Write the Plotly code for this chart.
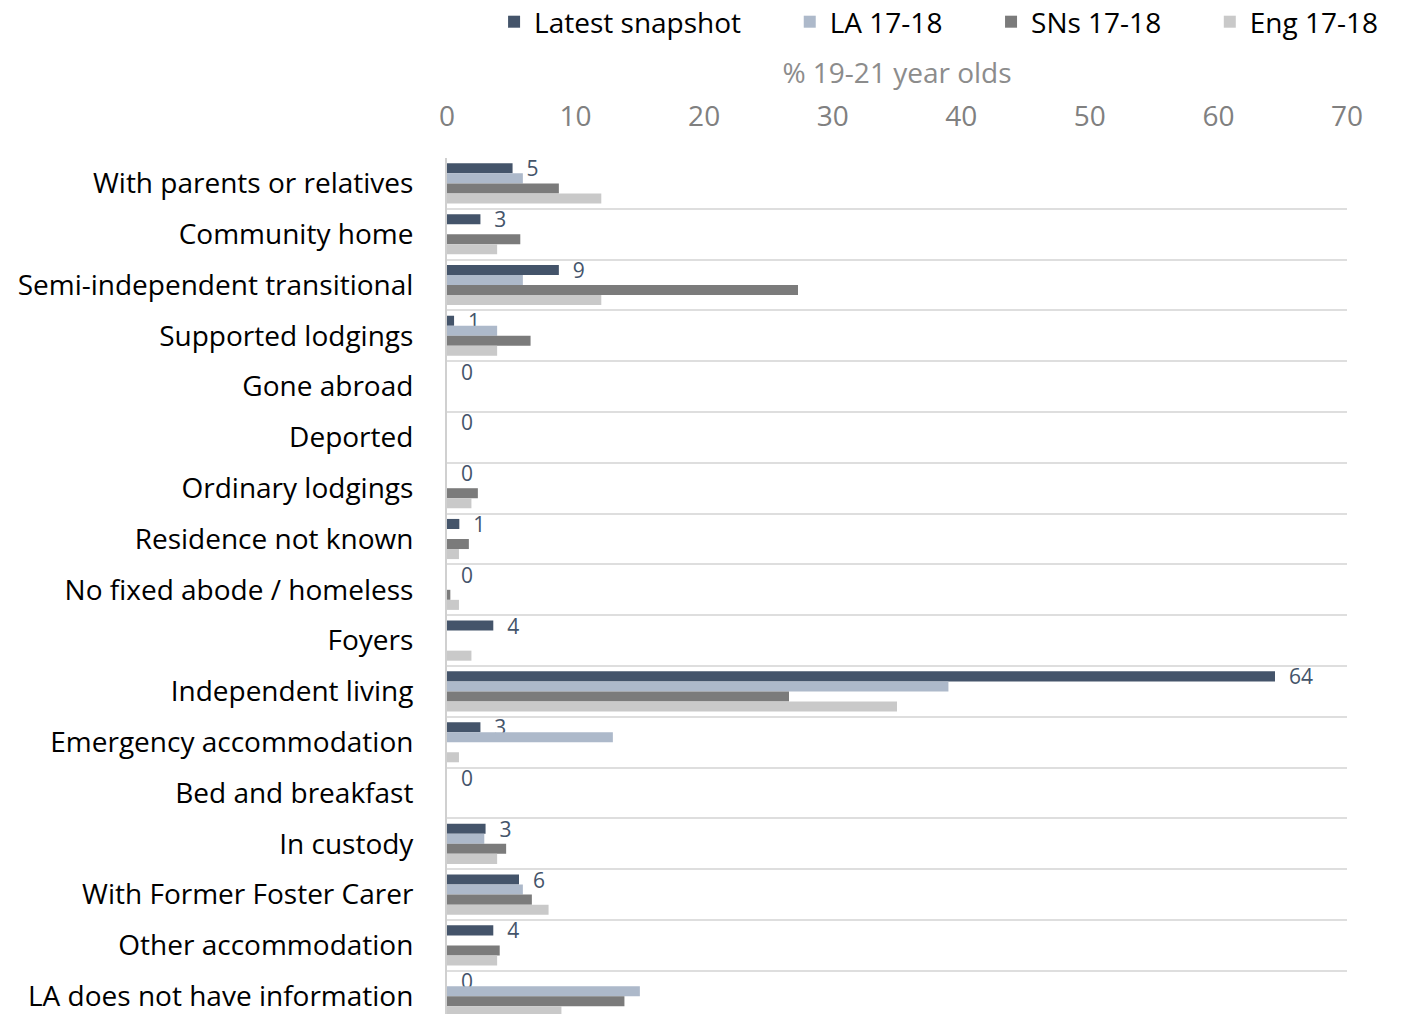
import plotly.graph_objects as go

categories = [
    "With parents or relatives", "Community home", "Semi-independent transitional",
    "Supported lodgings", "Gone abroad", "Deported", "Ordinary lodgings",
    "Residence not known", "No fixed abode / homeless", "Foyers",
    "Independent living", "Emergency accommodation", "Bed and breakfast",
    "In custody", "With Former Foster Carer", "Other accommodation",
    "LA does not have information",
]
latest = [5.1, 2.6, 8.7, 0.55, 0, 0, 0, 0.96, 0, 3.6, 64.4, 2.6, 0, 3.0, 5.6, 3.6, 0]
la_1718 = [5.9, 0, 5.9, 3.9, 0, 0, 0, 0, 0, 0, 39.0, 12.9, 0, 2.9, 5.9, 0, 15.0]
sns_1718 = [8.7, 5.7, 27.3, 6.5, 0, 0, 2.4, 1.7, 0.26, 0, 26.6, 0, 0, 4.6, 6.6, 4.1, 13.8]
eng_1718 = [12.0, 3.9, 12.0, 3.9, 0, 0, 1.9, 0.93, 0.93, 1.9, 35.0, 0.93, 0, 3.9, 7.9, 3.9, 8.9]

series_names = ["Latest snapshot", "LA 17-18", "SNs 17-18", "Eng 17-18"]
series_colors = ["#44546A", "#ADB9CA", "#7B7B7B", "#C9C9C9"]
x_ticks = [0, 10, 20, 30, 40, 50, 60, 70]

FONT = "Open Sans"
# page body has an 8px default margin; figure sized/offset to compensate
W, H = 1413, 1006
T = 150
PAD = "\u00a0" * 6
fig = go.Figure()
for i, (name, vals, col) in enumerate(zip(series_names, [latest, la_1718, sns_1718, eng_1718], series_colors)):
    kw = {}
    if i == 0:
        kw = dict(texttemplate="\u00a0\u00a0%{x:.0f}", textposition="outside",
                  textfont=dict(family=FONT, size=21, color="#44546A"),
                  constraintext="none", cliponaxis=False)
    label = name + (PAD if i < len(series_names) - 1 else "")
    fig.add_trace(go.Bar(y=categories, x=vals, name=label, orientation="h",
                         marker=dict(color=col, line=dict(width=0)), **kw))

plot_h = H - T
fig.update_layout(
    width=W, height=H,
    barmode="group", bargap=0.21, bargroupgap=0,
    plot_bgcolor="white", paper_bgcolor="white",
    margin=dict(l=439, r=74, t=T, b=0, pad=0, autoexpand=False),
    font=dict(family=FONT, size=28, color="#000000"),
    legend=dict(orientation="h", xref="container", yref="paper",
                x=0.344, y=1 + (T + 11) / plot_h, xanchor="left", yanchor="top",
                font=dict(family=FONT, size=28, color="#000000"),
                traceorder="normal"),
    xaxis=dict(side="top", range=[0, 70], tickvals=x_ticks, showgrid=False,
               zeroline=False, showline=False,
               tickfont=dict(family=FONT, size=28, color="#808080"),
               ticklabelstandoff=25,
               title=dict(text="% 19-21 year olds", standoff=4,
                          font=dict(family=FONT, size=28, color="#8C8C8C"))),
    yaxis=dict(autorange=False, range=[16.35, -0.5], tickson="boundaries",
               showgrid=True, gridcolor="#DEDEDE", gridwidth=1.5,
               showline=True, linecolor="#D0D0D0", linewidth=2,
               ticks="", ticklabelstandoff=26,
               tickfont=dict(family=FONT, size=28, color="#000000")),
)

fig.write_html("out.html")
